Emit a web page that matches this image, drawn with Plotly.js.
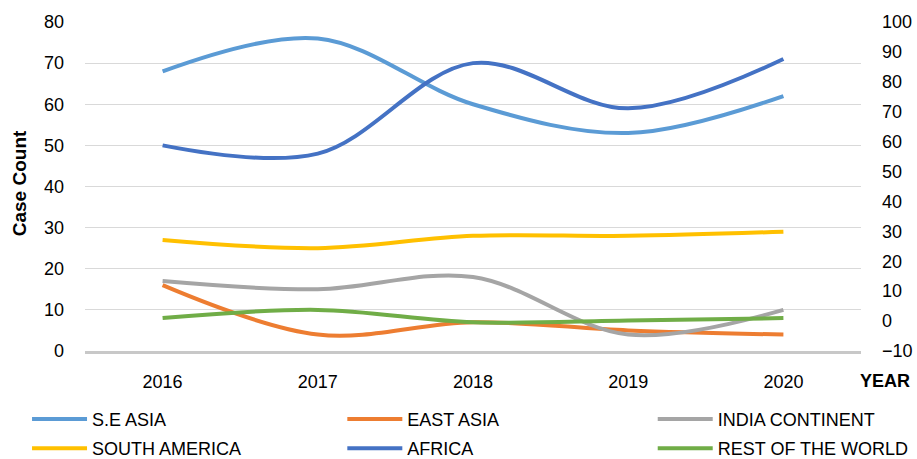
<!DOCTYPE html>
<html>
<head>
<meta charset="utf-8">
<script src="https://cdn.plot.ly/plotly-3.0.1.min.js"></script>
<style>html,body{margin:0;padding:0;background:#fff;}#chart{width:917px;height:459px;}</style>
</head>
<body>
<div id="chart"></div>
<script>
var years = ['2016', '2017', '2018', '2019', '2020'];
var seAsia = [68, 76, 60, 53, 62];
var eastAsia = [16, 4, 7, 5, 4];
var indiaContinent = [17, 15, 18, 4, 10];
var southAmerica = [27, 25, 28, 28, 29];
var africa = [50, 48, 70, 59, 71];
var restOfWorld = [8, 10, 7, 7.4, 8];

var FONT = 'Liberation Sans, Arial, sans-serif';

function mk(name, vals, color, legend) {
  return {
    x: years, y: vals, name: name, type: 'scatter', mode: 'lines',
    line: {color: color, width: 4, shape: 'spline', smoothing: 1},
    legend: legend, legendgroup: name, hoverinfo: 'x+y+name'
  };
}

var traces = [
  mk('S.E ASIA', seAsia, '#5B9BD5', 'legend'),
  mk('SOUTH AMERICA', southAmerica, '#FFC000', 'legend'),
  mk('EAST ASIA', eastAsia, '#ED7D31', 'legend2'),
  mk('AFRICA', africa, '#4472C4', 'legend2'),
  mk('INDIA CONTINENT', indiaContinent, '#A5A5A5', 'legend3'),
  mk('REST OF THE WORLD', restOfWorld, '#70AD47', 'legend3'),
  {x: years, y: [], yaxis: 'y2', type: 'scatter', mode: 'lines', showlegend: false, hoverinfo: 'skip'}
];

var legendBase = {
  orientation: 'v', xref: 'paper', yref: 'paper', xanchor: 'left', yanchor: 'top',
  y: -0.151, font: {family: FONT, size: 18, color: '#000'},
  itemwidth: 55, tracegroupgap: 3, bgcolor: 'rgba(0,0,0,0)', traceorder: 'grouped'
};
function lg(x) { var o = JSON.parse(JSON.stringify(legendBase)); o.x = x; return o; }

var layout = {
  width: 917, height: 459,
  margin: {l: 85, r: 56, t: 22, b: 108, autoexpand: false},
  paper_bgcolor: '#fff', plot_bgcolor: '#fff',
  font: {family: FONT, size: 18, color: '#000'},
  xaxis: {
    type: 'category', range: [-0.5, 4.5], showgrid: false, zeroline: false,
    showline: true, linecolor: '#c8c8c8', linewidth: 3, ticks: '',
    ticklabelstandoff: 12, tickfont: {family: FONT, size: 18, color: '#000'}
  },
  yaxis: {
    range: [0, 80], dtick: 10, showgrid: true, gridcolor: '#d9d9d9', gridwidth: 1,
    zeroline: false, showline: false, ticks: '', ticklabelstandoff: 20,
    tickfont: {family: FONT, size: 18, color: '#000'}
  },
  yaxis2: {
    overlaying: 'y', side: 'right', range: [-10, 100], dtick: 10, showgrid: false,
    zeroline: false, showline: false, ticks: '', ticklabelstandoff: 20,
    tickfont: {family: FONT, size: 18, color: '#000'}
  },
  legend: lg(-0.0747),
  legend2: lg(0.3316),
  legend3: lg(0.7316),
  annotations: [
    {text: '<b>Case Count</b>', xref: 'paper', yref: 'paper', x: -0.085, y: 0.51,
     textangle: -90, showarrow: false, xanchor: 'center', yanchor: 'middle',
     font: {family: FONT, size: 19, color: '#000'}},
    {text: '<b>YEAR</b>', xref: 'paper', yref: 'paper', x: 1.031, y: -0.091,
     showarrow: false, xanchor: 'center', yanchor: 'middle',
     font: {family: FONT, size: 18, color: '#000'}}
  ],
  showlegend: true
};

Plotly.newPlot('chart', traces, layout, {displayModeBar: false, staticPlot: true});
</script>
</body>
</html>
